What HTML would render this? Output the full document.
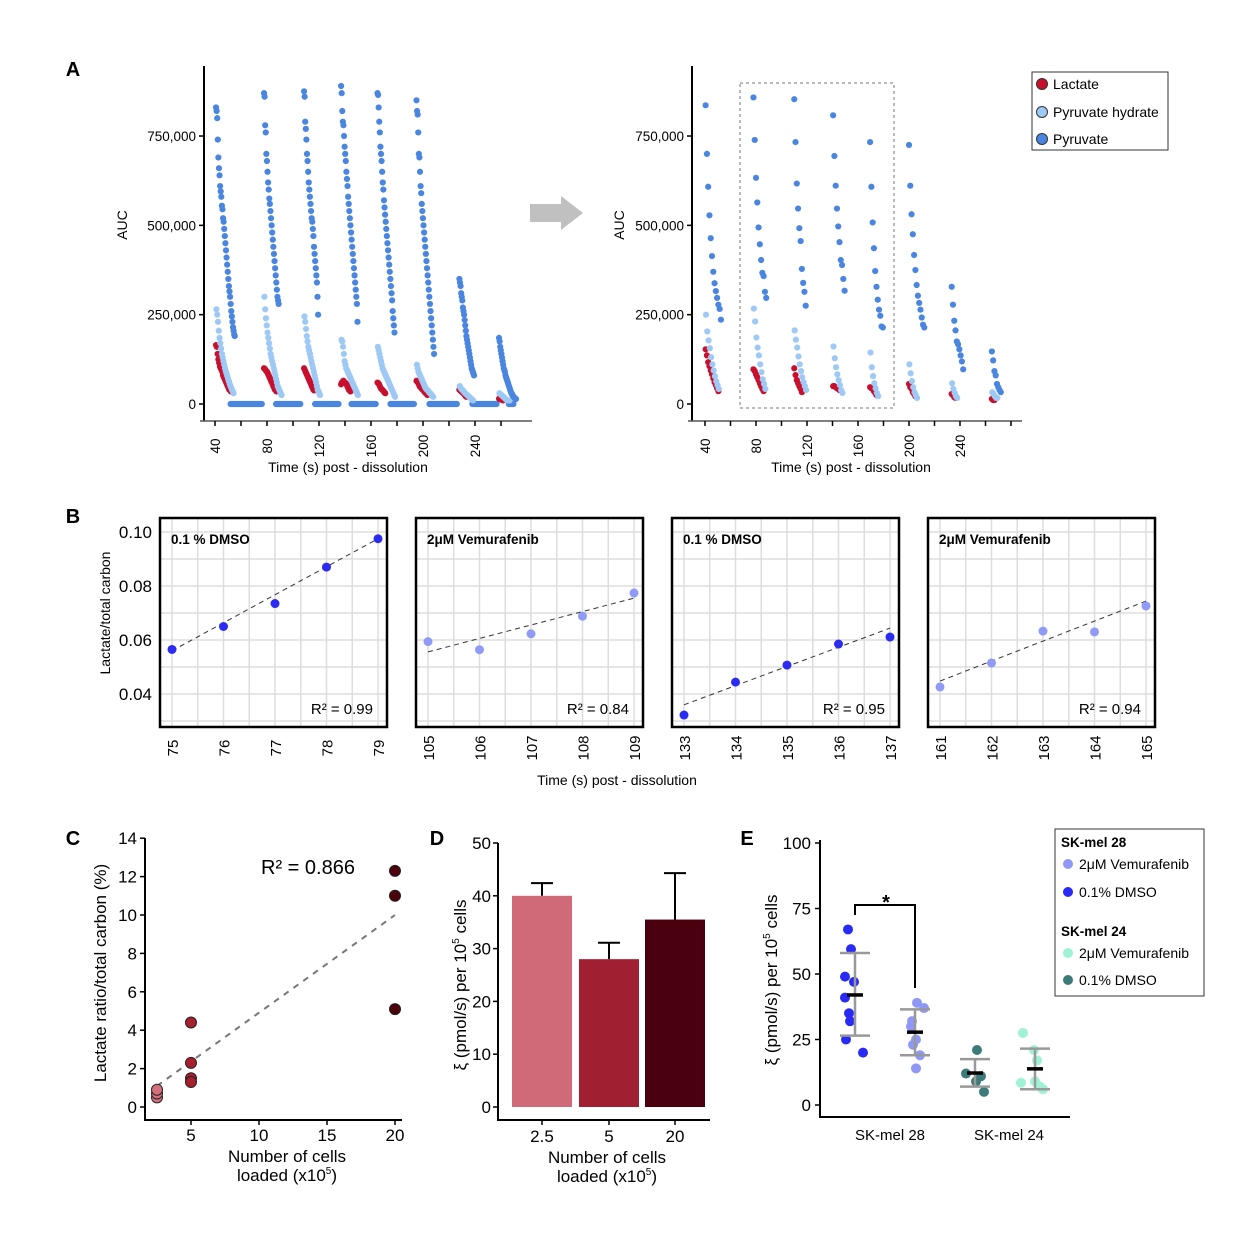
<!DOCTYPE html>
<html><head><meta charset="utf-8">
<style>
html,body{margin:0;padding:0;background:#fff;}
svg{display:block;font-family:"Liberation Sans",Arial,sans-serif;}
</style></head>
<body>
<svg id="fig" width="1241" height="1250" viewBox="0 0 1241 1250" xmlns="http://www.w3.org/2000/svg">
<rect width="1241" height="1250" fill="#fff"/>
</svg>
<script>
// ===== Panel A left data (values in thousands AUC) =====
const aLeftStarts = [40.8, 77.7, 108.5, 137, 165, 195, 228, 258.5];
const aLeftPyr = [
 [830,820,800,740,690,660,640,610,595,580,555,545,520,510,490,470,450,430,410,390,370,350,330,315,300,280,260,245,230,215,205,195,190],
 [870,860,780,760,700,680,650,620,600,575,560,540,520,500,480,460,440,420,400,380,360,340,320,300,290,280],
 [875,860,790,770,740,700,680,650,620,600,580,560,540,520,510,490,470,440,420,400,380,360,340,300,250],
 [890,870,820,790,780,750,720,700,680,650,630,610,580,560,540,520,500,480,460,440,420,400,380,360,340,320,300,280,230],
 [870,865,830,790,760,720,700,680,650,620,600,570,550,530,510,490,470,450,430,410,390,370,350,330,310,290,260,240,220,200],
 [850,820,810,760,700,690,650,610,590,560,540,520,500,480,460,440,420,400,380,360,340,320,300,280,260,240,220,200,180,160,140],
 [350,340,330,310,300,290,270,260,250,235,220,205,190,180,170,160,150,140,130,120,110,100,95,90,85,80],
 [185,175,160,150,140,130,120,110,100,95,90,80,75,70,65,60,55,50,45,40,35,30,28,25,22,20,18,16,15,14]
];
const aLeftHyd = [
 [265,250,230,205,185,170,155,140,130,120,110,100,92,85,78,70,63,56,50,45,40,35,30],
 [300,265,240,220,200,185,170,155,140,130,120,110,100,90,80,70,60,50,45,40,35,30,25],
 [245,230,210,190,175,160,150,140,130,120,110,100,90,80,70,60,50,40,35,30,25],
 [180,175,160,140,120,110,100,95,90,85,80,75,70,65,60,55,50,45,40,35,30,25],
 [160,150,140,130,120,110,100,95,90,85,80,75,70,65,60,55,50,45,40,35,30,25,20],
 [110,100,90,85,80,75,70,65,60,55,50,45,42,40,38,35,32,30,28,25,22,20],
 [50,45,42,40,38,35,32,30,28,26,24,22,20,18,16,14,12,10],
 [30,28,26,24,22,20,18,16,14,12,10,10,10,10]
];
const aLeftLac = [
 [165,160,140,125,115,105,100,95,90,80,75,70,65,60,55,50,45,40,40,35],
 [100,98,95,92,90,85,80,75,70,65,60,55,50,45,40,38,35],
 [100,95,90,85,80,75,70,65,60,55,50,45,40,38],
 [55,60,62,65,62,60,58,55,50,45,40,38,35],
 [60,58,55,50,45,42,40,38,35,32,30],
 [65,62,60,55,50,47,45,42,40,38,35,32,30,28,25],
 [40,38,36,34,32,30,28,25,22,20],
 [15,14,13,12,11,10]
];
const aLeftZeroStart = [52, 87, 117, 145, 175, 205, 238, 266];
const aLeftZeroEnd   = [76, 106, 135, 164, 193, 226, 257, 270];
// ===== Panel A right data =====
const aRightStarts = [40.5, 78, 110, 140.5, 169.5, 200, 233.5, 265];
const aRightPyr = [
 [836,700,608,528,464,414,370,338,316,297,278,266,236],
 [858,739,633,564,494,447,403,367,358,314,297],
 [853,733,617,547,492,456,378,339,314,275],
 [808,694,611,547,497,453,403,389,350,317],
 [733,608,508,436,372,328,292,264,247,217,214],
 [725,611,531,475,417,375,333,303,283,264,242,222,214],
 [328,278,233,206,175,167,153,136,119,97],
 [147,122,92,80,56,47,39,33]
];
const aRightHyd = [
 [250,203,178,156,131,111,94,78,64,53,42],
 [267,231,186,158,136,111,89,69,56,42],
 [206,180,158,133,111,92,75,61,50,39],
 [161,128,103,83,67,53,39,31],
 [144,103,78,58,44,31,22],
 [111,86,64,47,33,25,17],
 [58,42,31,22,17],
 [33,28,22,17,17]
];
const aRightLac = [
 [153,136,117,106,94,83,72,61,53,44,36],
 [97,92,83,75,67,58,50,42,36],
 [100,81,67,58,50,42,33],
 [50,50,47,44,42,39],
 [47,44,42,36,31,25],
 [56,47,42,33,28,22],
 [28,25,19,17],
 [14,11,11]
];
// ===== Panel B data =====
const bTitles = ["0.1 % DMSO","2μM Vemurafenib","0.1 % DMSO","2μM Vemurafenib"];
const bTimes = [[75,76,77,78,79],[105,106,107,108,109],[133,134,135,136,137],[161,162,163,164,165]];
const bValues = [
 [0.0565,0.0650,0.0735,0.0870,0.0975],
 [0.0594,0.0564,0.0623,0.0688,0.0774],
 [0.0322,0.0444,0.0507,0.0585,0.0611],
 [0.0426,0.0515,0.0633,0.0630,0.0726]
];
const bFitStart = [0.0560,0.0556,0.0360,0.0448];
const bFitEnd = [0.0975,0.0755,0.0644,0.0744];
const bR2 = ["R² = 0.99","R² = 0.84","R² = 0.95","R² = 0.94"];
const bYTicks = [0.04,0.06,0.08,0.10];
// ===== Panel C data =====
const cX = [2.5,2.5,2.5,5,5,5,5,20,20,20];
const cY = [0.5,0.7,0.9,4.4,2.3,1.5,1.3,12.3,11.0,5.1];
const cXTicks = [5,10,15,20];
const cYTicks = [0,2,4,6,8,10,12,14];
const cFit = [[2.5,1.1],[20,10]];
// ===== Panel D data =====
const dCats = ["2.5","5","20"];
const dMeans = [40,28,35.5];
const dErrTop = [42.4,31.1,44.3];
const dYTicks = [0,10,20,30,40,50];
// ===== Panel E data =====
const eDmso28 = [67,59.5,49,47,41,35,32,25,20];
const eVem28 = [39,37,30,32,25,23,19,14];
const eDmso24 = [21,12,11,9,5];
const eVem24 = [27.5,21,17,8.5,9,7,6];
const eMeans = [42,27.8,12.2,13.8];
const eLow = [26.5,19,7,6];
const eHigh = [58,36.5,17.5,21.5];
const eYTicks = [0,25,50,75,100];

const NS="http://www.w3.org/2000/svg";
const svg=document.getElementById('fig');
function mk(tag,attrs,parent,text){const e=document.createElementNS(NS,tag);for(const k in attrs)e.setAttribute(k,attrs[k]);if(text!==undefined)e.textContent=text;(parent||svg).appendChild(e);return e;}
function grp(name){const g=mk('g',{});return g;}
function txt(g,x,y,s,o){o=o||{};const t=mk('text',{x:x,y:y,'font-size':o.size||13,'text-anchor':o.anchor||'middle',fill:o.fill||'#000','font-weight':o.bold?'bold':'normal'},g,s);if(o.rot)t.setAttribute('transform','rotate('+o.rot+' '+x+' '+y+')');return t;}
function supTxt(g,x,y,a,sup,b,size,rot){
  const t=mk('text',{x:x,y:y,'font-size':size,'text-anchor':'middle',fill:'#000'},g);
  if(rot)t.setAttribute('transform','rotate('+rot+' '+x+' '+y+')');
  mk('tspan',{},t,a);mk('tspan',{dy:-7,'font-size':10},t,sup);mk('tspan',{dy:7},t,b);return t;}
function line(g,x1,y1,x2,y2,st,w,dash){const l=mk('line',{x1:x1,y1:y1,x2:x2,y2:y2,stroke:st||'#000','stroke-width':w||1},g);if(dash)l.setAttribute('stroke-dasharray',dash);return l;}
function dot(g,x,y,r,f,st){const c=mk('circle',{cx:x,cy:y,r:r,fill:f},g);if(st){c.setAttribute('stroke',st);c.setAttribute('stroke-width',1);}return c;}

const lbl=grp('panel-labels');
[['A',73,76],['B',73,523],['C',73,845],['D',437,845],['E',747,845]].forEach(p=>{txt(lbl,p[1],p[2],p[0],{size:20,bold:true});});

// ===== Panel A =====
const LAC='#c8102e',HYD='#9ec9f5',PYR='#4a86e0';
function panelA(name,axX,xAt,starts,pyr,hyd,lac,zs,ze,axEnd,tEnd){
  const g=grp(name);
  const yAt=v=>404-v*0.3573;
  const pts=grp(name+'-points');g.appendChild(pts);
  const R=3.1;
  if(zs){zs.forEach((s,i)=>{for(let t=s;t<=ze[i];t+=0.6){dot(pts,xAt(t),yAt(0),R,PYR);}});}
  starts.forEach((s,i)=>{
    lac[i].forEach((v,j)=>{const c=dot(pts,xAt(s+(zs?0.6:1)*j),yAt(v),R,LAC);});
    hyd[i].forEach((v,j)=>{const c=dot(pts,xAt(s+0.3+(zs?0.6:1)*j),yAt(v),R,HYD);});
    pyr[i].forEach((v,j)=>{const c=dot(pts,xAt(s+(zs?0.45:1)*j),yAt(v),R,PYR);});
  });
  line(g,axX,66,axX,421,'#000',2);
  line(g,axX-4,421,axEnd,421,'#555',1.5);
  [0,250,500,750].forEach(v=>{line(g,axX-5,yAt(v),axX,yAt(v),'#000',1.5);
    txt(g,axX-8,yAt(v)+5,v===0?'0':(v+',000'),{size:13.5,anchor:'end'});});
  for(let t=40;t<=tEnd;t+=20){line(g,xAt(t),421,xAt(t),426,'#000',1.5);}
  [40,80,120,160,200,240].forEach(t=>{txt(g,xAt(t)+5,446,String(t),{size:13.5,rot:-90});});
  return g;
}
const xL=t=>215+(t-40)*1.3;
const gAL=panelA('auc-chart-raw',204,xL,aLeftStarts,aLeftPyr,aLeftHyd,aLeftLac,aLeftZeroStart,aLeftZeroEnd,532,270);
txt(gAL,127,225,'AUC',{size:14,rot:-90});
txt(gAL,348,472,'Time (s) post - dissolution',{size:14});
const xR=t=>705+(t-40)*1.275;
const gAR=panelA('auc-chart-subsampled',692,xR,aRightStarts,aRightPyr,aRightHyd,aRightLac,null,null,1022,280);
txt(gAR,624,225,'AUC',{size:14,rot:-90});
txt(gAR,851,472,'Time (s) post - dissolution',{size:14});
mk('rect',{x:740,y:83,width:154,height:325,fill:'none',stroke:'#777','stroke-width':1,'stroke-dasharray':'3,3'},gAR);
const arr=mk('polygon',{points:'530,204 561,204 561,196 583,213 561,230 561,222 530,222',fill:'#c0c0c0'});

const legA=grp('legend-a');
mk('rect',{x:1032,y:72,width:136,height:78,fill:'#fff',stroke:'#333','stroke-width':1},legA);
[['Lactate',LAC,84],['Pyruvate hydrate',HYD,112],['Pyruvate',PYR,139]].forEach(e=>{
  const it=grp('legend-entry');legA.appendChild(it);
  dot(it,1042,e[2],5.5,e[1],'#333');txt(it,1053,e[2]+5,e[0],{size:14,anchor:'start'});});

// ===== Panel B =====
const bBoxL=[160,416,672,928],bW=227;
const yB=v=>532+(0.10-v)/0.02*54;
bTitles.forEach((title,i)=>{
  const g=grp('regression-panel-'+(i+1));
  const L=bBoxL[i],R=L+bW,T=518,B=727;
  const t0=bTimes[i][0],t1=bTimes[i][bTimes[i].length-1];
  const xB=t=>L+12+(t-t0)/(t1-t0)*(bW-21);
  for(let v=0.03;v<=0.1001;v+=0.01){const y=yB(v);if(y>T&&y<B)line(g,L,y,R,y,'#ddd',1.5);}
  for(let t=t0-0.5;t<=t1+0.01;t+=0.5){const x=xB(t);if(x>L&&x<R)line(g,x,T,x,B,'#ddd',1.5);}
  line(g,xB(t0),yB(bFitStart[i]),xB(t1),yB(bFitEnd[i]),'#333',1,'5,4');
  const col=(i%2===0)?'#2b2bf2':'#8f9bf7';
  bTimes[i].forEach((t,j)=>{const c=dot(g,xB(t),yB(bValues[i][j]),4.5,col);});
  mk('rect',{x:L,y:T,width:bW,height:B-T,fill:'none',stroke:'#000','stroke-width':2.5},g);
  txt(g,L+11,544,title,{size:13.5,bold:true,anchor:'start'});
  txt(g,R-14,714,bR2[i],{size:15,anchor:'end'});
  bTimes[i].forEach(t=>{txt(g,xB(t)+6,748,String(t),{size:15,rot:-90});});
  if(i===0){bYTicks.forEach(v=>{txt(g,152,yB(v)+6,v.toFixed(2),{size:17,anchor:'end'});});}
});
const gB=grp('panel-b-axis-titles');
txt(gB,110,613,'Lactate/total carbon',{size:14,rot:-90});
txt(gB,617,785,'Time (s) post - dissolution',{size:14});

// ===== Panel C =====
const gC=grp('scatter-cells-vs-lactate');
const xC=v=>191+(v-5)*13.6, yC=v=>1107-v*19.2;
line(gC,145,838,145,1121,'#000',2);line(gC,144,1120,402,1120,'#000',2);
cYTicks.forEach(v=>{line(gC,140,yC(v),145,yC(v),'#000',1.5);txt(gC,137,yC(v)+6,String(v),{size:17,anchor:'end'});});
cXTicks.forEach(v=>{line(gC,xC(v),1120,xC(v),1125,'#000',1.5);txt(gC,xC(v),1141,String(v),{size:17});});
line(gC,xC(cFit[0][0]),yC(cFit[0][1]),xC(cFit[1][0]),yC(cFit[1][1]),'#777',2,'6,6');
cX.forEach((x,i)=>{const col=x<4?'#d5707c':(x<10?'#a81f2f':'#4b000c');const c=dot(gC,xC(x),yC(cY[i]),5.5,col,'#222');});
txt(gC,308,874,'R² = 0.866',{size:20});
txt(gC,106,973,'Lactate ratio/total carbon (%)',{size:17,rot:-90});
txt(gC,287,1162,'Number of cells',{size:17});
supTxt(gC,287,1181,'loaded (x10','5',')',17,0);

// ===== Panel D =====
const gD=grp('bar-chart-rate');
const yD=v=>1107-v*5.28;
const dCols=['#d06a78','#a01f30','#4a000e'];
const dX=[512,579,645];
line(gD,498,843,498,1121,'#000',2);line(gD,497,1120,710,1120,'#000',2);
dYTicks.forEach(v=>{line(gD,493,yD(v),498,yD(v),'#000',1.5);txt(gD,491,yD(v)+6,String(v),{size:17,anchor:'end'});});
dCats.forEach((c,i)=>{
  const cx=dX[i]+30;
  line(gD,cx,yD(dMeans[i]),cx,yD(dErrTop[i]),'#000',2);
  line(gD,cx-11,yD(dErrTop[i]),cx+11,yD(dErrTop[i]),'#000',2);
  const r=mk('rect',{x:dX[i],y:yD(dMeans[i]),width:60,height:yD(0)-yD(dMeans[i]),fill:dCols[i]},gD);
  
  line(gD,cx,1120,cx,1125,'#000',1.5);
  txt(gD,cx,1142,c,{size:17});
});
supTxt(gD,466,985,'ξ (pmol/s) per 10','5',' cells',17,-90);
txt(gD,607,1163,'Number of cells',{size:17});
supTxt(gD,607,1182,'loaded (x10','5',')',17,0);

// ===== Panel E =====
const gE=grp('dot-plot-cell-lines');
const yE=v=>1105-v*2.62;
line(gE,820,840,820,1118,'#000',2);line(gE,819,1117,1070,1117,'#000',2);
eYTicks.forEach(v=>{line(gE,815,yE(v),820,yE(v),'#000',1.5);txt(gE,811,yE(v)+6,String(v),{size:17,anchor:'end'});});
const eGroups=[eDmso28,eVem28,eDmso24,eVem24];
const eCols=['#2a2af5','#8f98f7','#3d7a7a','#9ff2d5'];
const eCX=[855,915,975,1035];
const eJit=[[-7,-4,-10,-1,-10,-6,-5,-9,8],[2,9,-4,-3,1,-2,5,1],[2,-9,6,1,9],[-12,-1,2,-14,0,5,8]];
eGroups.forEach((grpVals,i)=>{
  grpVals.forEach((v,j)=>{const c=dot(gE,eCX[i]+eJit[i][j],yE(v),5,eCols[i]);});
  line(gE,eCX[i],yE(eLow[i]),eCX[i],yE(eHigh[i]),'#999',2.5);
  line(gE,eCX[i]-15,yE(eLow[i]),eCX[i]+15,yE(eLow[i]),'#999',2.5);
  line(gE,eCX[i]-15,yE(eHigh[i]),eCX[i]+15,yE(eHigh[i]),'#999',2.5);
  line(gE,eCX[i]-8,yE(eMeans[i]),eCX[i]+8,yE(eMeans[i]),'#000',3.5);
});
const br=mk('polyline',{points:'855,915 855,905 915,905 915,988',fill:'none',stroke:'#000','stroke-width':2},gE);

txt(gE,886,909,'*',{size:20,bold:true});
txt(gE,890,1140,'SK-mel 28',{size:15});
txt(gE,1009,1140,'SK-mel 24',{size:15});
supTxt(gE,777,980,'ξ (pmol/s) per 10','5',' cells',17,-90);
const legE=grp('legend-e');
mk('rect',{x:1055,y:829,width:149,height:167,fill:'#fff',stroke:'#333','stroke-width':1},legE);
txt(legE,1061,847,'SK-mel 28',{size:13.5,bold:true,anchor:'start'});
txt(legE,1061,936,'SK-mel 24',{size:13.5,bold:true,anchor:'start'});
[['2μM Vemurafenib',eCols[1],864],['0.1% DMSO',eCols[0],892],['2μM Vemurafenib',eCols[3],953],['0.1% DMSO',eCols[2],980]].forEach(e=>{
  const it=grp('legend-entry');legE.appendChild(it);
  dot(it,1068,e[2],5,e[1]);txt(it,1079,e[2]+5,e[0],{size:14,anchor:'start'});});
</script>
</body></html>
